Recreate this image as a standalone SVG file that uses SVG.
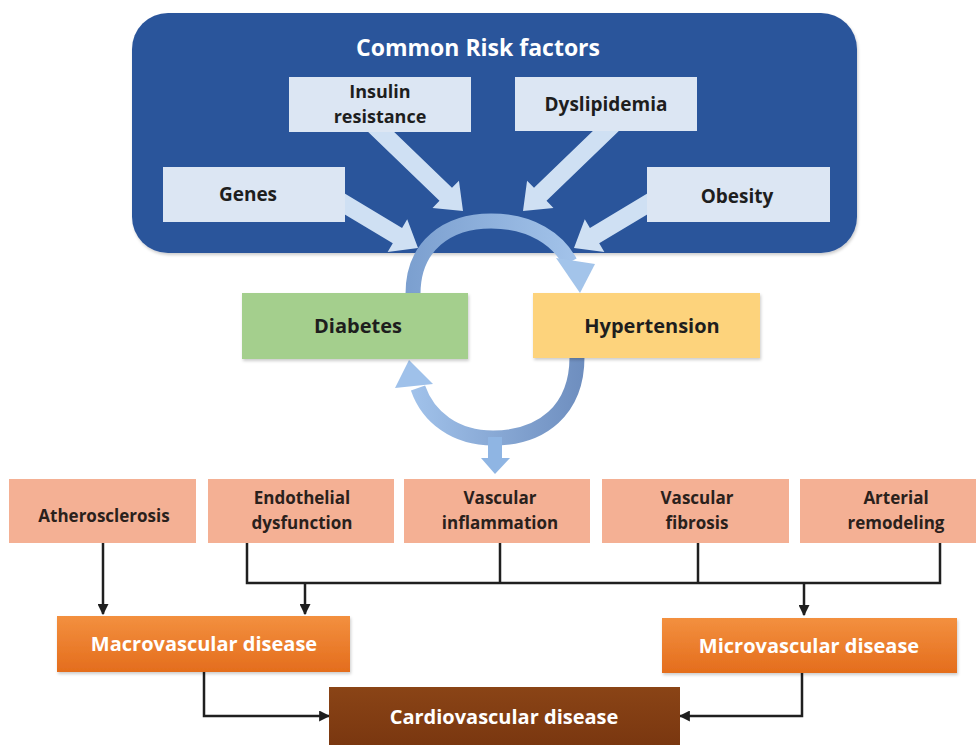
<svg xmlns="http://www.w3.org/2000/svg" width="976" height="745" viewBox="0 0 976 745">
<defs>
<style>
text{font-family:"Open Sans","Liberation Sans",sans-serif;font-weight:bold;text-anchor:middle}
.dk{fill:#1e1e1e;font-size:19px}
.rw{fill:#2a211c;font-size:17px}
.wh{fill:#ffffff;font-size:20px}
.factor{fill:#dce6f3}
.row{fill:#f4b094}
.bar{fill:#cfe0f3}
.conn{fill:none;stroke:#1f1f1f;stroke-width:2.5}
</style>
<linearGradient id="gOr" x1="0" y1="0" x2="0" y2="1"><stop offset="0" stop-color="#f3903f"/><stop offset="1" stop-color="#e46d1d"/></linearGradient>
<linearGradient id="gBr" x1="0" y1="0" x2="0" y2="1"><stop offset="0" stop-color="#8a4416"/><stop offset="1" stop-color="#7a3710"/></linearGradient>
<linearGradient id="gTop" x1="405" y1="0" x2="590" y2="0" gradientUnits="userSpaceOnUse"><stop offset="0" stop-color="#7b9fcf"/><stop offset="1" stop-color="#a6c6ec"/></linearGradient>
<linearGradient id="gBot" x1="405" y1="0" x2="590" y2="0" gradientUnits="userSpaceOnUse"><stop offset="0" stop-color="#a3c4ec"/><stop offset="1" stop-color="#6c8cbd"/></linearGradient>
<marker id="ah" viewBox="0 0 10 10" refX="9" refY="5" markerWidth="4.4" markerHeight="4.4" orient="auto" markerUnits="strokeWidth"><path d="M0,0 L10,5 L0,10 Z" fill="#1f1f1f"/></marker>
<filter id="sh" x="-5%" y="-5%" width="110%" height="115%"><feDropShadow dx="1" dy="2" stdDeviation="1.5" flood-color="#000" flood-opacity="0.2"/></filter>
<path id="blk" d="M0,0 L-24,-19 V-9 H-135 V9 H-24 V19 Z"/>
</defs>

<g id="risk-factors">
<rect x="132" y="13" width="725" height="240" rx="36" fill="#2c559b" filter="url(#sh)"/>
<text x="478" y="56" fill="#ffffff" style="font-size:23px">Common Risk factors</text>
</g>

<g id="factor-arrows">
<use href="#blk" class="bar" transform="translate(463,211) rotate(44)"/>
<use href="#blk" class="bar" transform="translate(523,211) rotate(136)"/>
<use href="#blk" class="bar" transform="translate(418,248) rotate(31)"/>
<use href="#blk" class="bar" transform="translate(574,248) rotate(149)"/>
</g>

<g id="insulin"><rect class="factor" x="289" y="77" width="182" height="55"/><text class="dk" x="380" y="98" style="font-size:18px">Insulin</text><text class="dk" x="380" y="123" style="font-size:18px">resistance</text></g>
<g id="dyslipidemia"><rect class="factor" x="515" y="77" width="182" height="54"/><text class="dk" x="606" y="111">Dyslipidemia</text></g>
<g id="genes"><rect class="factor" x="163" y="167" width="182" height="55"/><text class="dk" x="248" y="201">Genes</text></g>
<g id="obesity"><rect class="factor" x="647" y="167" width="183" height="55"/><text class="dk" x="737" y="203">Obesity</text></g>

<g id="cycle">
<path d="M413,294 C413,245 448,221 491,221 C532,221 558,240 570,262" fill="none" stroke="url(#gTop)" stroke-width="15"/>
<path d="M556,258 L595,264 L580,293 Z" fill="#a3c4ea"/>
<path d="M577,357 C577,410 542,438 493,438 C455,438 428,417 418,388" fill="none" stroke="url(#gBot)" stroke-width="15"/>
<path d="M395,388 L433,384 L409,360 Z" fill="#9fc1ea"/>
<path d="M488,437 H502 V458 H510 L495,474 L481,458 H488 Z" fill="#8fb5e3"/>
</g>

<g id="diabetes"><rect x="242" y="293" width="226" height="66" fill="#a4cf8d" filter="url(#sh)"/><text class="dk" x="358" y="333" style="font-size:20px">Diabetes</text></g>
<g id="hypertension"><rect x="533" y="293" width="227" height="65" fill="#fdd37c" filter="url(#sh)"/><text class="dk" x="652" y="333" style="font-size:20px">Hypertension</text></g>

<g id="atherosclerosis"><rect class="row" x="9" y="479" width="187" height="64"/><text class="rw" x="104" y="522">Atherosclerosis</text></g>
<g id="endothelial"><rect class="row" x="208" y="479" width="186" height="64"/><text class="rw" x="302" y="504">Endothelial</text><text class="rw" x="302" y="529">dysfunction</text></g>
<g id="inflammation"><rect class="row" x="404" y="479" width="186" height="64"/><text class="rw" x="500" y="504">Vascular</text><text class="rw" x="500" y="529">inflammation</text></g>
<g id="fibrosis"><rect class="row" x="602" y="479" width="187" height="64"/><text class="rw" x="697" y="504">Vascular</text><text class="rw" x="697" y="529">fibrosis</text></g>
<g id="remodeling"><rect class="row" x="800" y="479" width="176" height="64"/><text class="rw" x="896" y="504">Arterial</text><text class="rw" x="896" y="529">remodeling</text></g>

<g id="connectors">
<line class="conn" x1="103" y1="543" x2="103" y2="614" marker-end="url(#ah)"/>
<polyline class="conn" points="247,543 247,583 940,583 940,543"/>
<line class="conn" x1="500" y1="543" x2="500" y2="583"/>
<line class="conn" x1="698" y1="543" x2="698" y2="583"/>
<line class="conn" x1="305" y1="583" x2="305" y2="614" marker-end="url(#ah)"/>
<line class="conn" x1="804" y1="583" x2="804" y2="615" marker-end="url(#ah)"/>
<polyline class="conn" points="204,672 204,716 329,716" marker-end="url(#ah)"/>
<polyline class="conn" points="802,673 802,716 680,716" marker-end="url(#ah)"/>
</g>

<g id="macrovascular"><rect x="57" y="616" width="293" height="56" fill="url(#gOr)" filter="url(#sh)"/><text class="wh" x="204" y="651">Macrovascular disease</text></g>
<g id="microvascular"><rect x="662" y="618" width="295" height="55" fill="url(#gOr)" filter="url(#sh)"/><text class="wh" x="809" y="653">Microvascular disease</text></g>
<g id="cardiovascular"><rect x="329" y="687" width="351" height="58" fill="url(#gBr)"/><text class="wh" x="504" y="724">Cardiovascular disease</text></g>
</svg>
